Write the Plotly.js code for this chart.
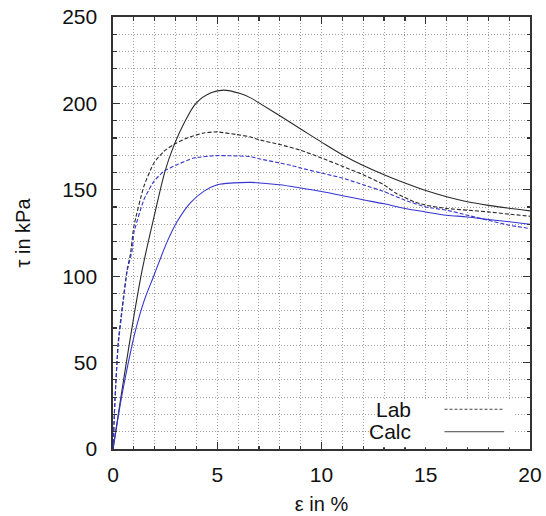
<!DOCTYPE html>
<html>
<head>
<meta charset="utf-8">
<script src="https://cdn.plot.ly/plotly-3.0.1.min.js"></script>
<style>html,body{margin:0;padding:0;background:#fff;}#chart{width:546px;height:516px;}</style>
</head>
<body>
<div id="chart"></div>
<script>
// Calc, case 1 (black solid)
var calc1_x = [0,0.38,0.89,1.4,2.0,2.5,2.9,3.5,4.0,4.7,5.3,6.1,6.6,7,8,9,10,11,12,13,14,15,16,17,18,19,20];
var calc1_y = [0,30,68.7,103.6,136,161,175,190.7,200.3,206.1,207.7,205.7,203.2,200.3,192.8,185.2,177.6,170.3,164,158.7,153.9,149.6,146,143.1,141,139.3,137.8];
// Lab, case 1 (black dashed)
var lab1_x = [0,0.05,0.1,0.25,0.44,0.68,0.84,1.0,1.48,1.96,2.44,2.91,3.55,4.35,5.0,5.9,6.6,7,8,9,10,11,12,13,13.5,14,14.5,15,16,17,18,19,20];
var lab1_y = [0,15,30,62,82,104,113,128.8,152,165.5,172.3,176.2,180,182.9,183.5,182,180.6,179,176.2,172.9,168.4,163.6,158.7,152.9,148.5,145.5,142.8,141.1,139.2,138.2,137.2,135.9,134.7];
// Lab, case 2 (blue dashed)
var lab2_x = [0,0.05,0.1,0.25,0.44,0.68,0.92,1.0,1.48,1.96,2.44,3.07,3.87,5.0,5.6,6.6,7,8,8.6,9,10,11,12,13,13.3,14,15,16,17,18,19,20];
var lab2_y = [0,15,30,60,80,103,115,125,144.2,154.9,160.7,164.5,168.4,169.8,169.7,169.2,168,165.5,164,162.6,159.7,156.8,152.9,149,147.5,144,140.1,138.2,135.3,132.4,129.5,127.6];
// Calc, case 2 (blue solid)
var calc2_x = [0,0.2,0.41,0.7,1.08,1.5,1.95,2.6,3.07,3.71,4.35,5.0,5.8,6.6,7,8,9,10,11,12,13,14,15,16,17,18,19,20];
var calc2_y = [0,15,30,48,68.7,86,100,120,131.5,142.5,149.1,152.9,154,154.3,154,152.9,151,149,146.6,144.2,141.9,139.2,137.2,135.3,134.3,132.8,131.5,130.1];

var legendLabels = ["Lab", "Calc"];
var xTitle = "ε in %";
var yTitle = "τ in kPa";

var BLACK = '#2a2a2a', BLUE = '#3535d2';
var FONT = 'Liberation Sans, Arial, sans-serif';
var GRID = '#a0a0a0';

var traces = [
  {x: calc1_x, y: calc1_y, mode: 'lines', line: {color: BLACK, width: 1.1, shape: 'spline', smoothing: 1}, showlegend: false},
  {x: lab1_x, y: lab1_y, mode: 'lines', line: {color: BLACK, width: 1.1, dash: '4px,2px', shape: 'spline', smoothing: 0.5}, showlegend: false},
  {x: lab2_x, y: lab2_y, mode: 'lines', line: {color: BLUE, width: 1.1, dash: '4px,2px', shape: 'spline', smoothing: 0.5}, showlegend: false},
  {x: calc2_x, y: calc2_y, mode: 'lines', line: {color: BLUE, width: 1.1, shape: 'spline', smoothing: 1}, showlegend: false}
];

var axisCommon = {
  showline: true, linecolor: '#333', linewidth: 1.6, mirror: 'allticks',
  ticks: 'inside', ticklen: 7, tickwidth: 1.2, tickcolor: '#333',
  showgrid: true, gridcolor: GRID, griddash: '1px,2px', gridwidth: 1,
  zeroline: false, tickfont: {family: FONT, size: 21, color: '#111'}
};

var layout = {
  width: 546, height: 516,
  margin: {l: 112.5, r: 16, t: 17, b: 67},
  paper_bgcolor: '#fff', plot_bgcolor: '#fff',
  showlegend: false,
  xaxis: Object.assign({}, axisCommon, {
    range: [0, 20], dtick: 5, tick0: 0, ticklabelstandoff: 6,
    minor: {dtick: 1, ticks: 'inside', ticklen: 3.5, tickcolor: '#333', showgrid: true, gridcolor: GRID, griddash: '1px,2px', gridwidth: 1},
    title: {text: xTitle, font: {family: FONT, size: 20, color: '#111'}, standoff: 12}
  }),
  yaxis: Object.assign({}, axisCommon, {
    range: [0, 250], dtick: 50, tick0: 0, ticklabelstandoff: 10,
    minor: {dtick: 10, ticks: 'inside', ticklen: 3.5, tickcolor: '#333', showgrid: true, gridcolor: GRID, griddash: '1px,2px', gridwidth: 1},
    title: {text: yTitle, font: {family: FONT, size: 20, color: '#111'}, standoff: 26}
  }),
  shapes: [
    {type: 'rect', xref: 'paper', yref: 'paper', x0: 0.64, x1: 0.962, y0: 0.004, y1: 0.116, fillcolor: '#fff', line: {width: 0}, layer: 'above'},
    {type: 'line', xref: 'paper', yref: 'paper', x0: 0.795, x1: 0.938, y0: 0.092, y1: 0.092, line: {color: '#444', width: 1, dash: '3px,2px'}, layer: 'above'},
    {type: 'line', xref: 'paper', yref: 'paper', x0: 0.795, x1: 0.938, y0: 0.040, y1: 0.040, line: {color: '#444', width: 1}, layer: 'above'}
  ],
  annotations: [
    {text: legendLabels[0], xref: 'paper', yref: 'paper', x: 0.72, y: 0.092, xanchor: 'right', yanchor: 'middle', showarrow: false, font: {family: FONT, size: 21, color: '#111'}},
    {text: legendLabels[1], xref: 'paper', yref: 'paper', x: 0.72, y: 0.040, xanchor: 'right', yanchor: 'middle', showarrow: false, font: {family: FONT, size: 21, color: '#111'}}
  ]
};

Plotly.newPlot('chart', traces, layout, {staticPlot: true, displayModeBar: false});
</script>
</body>
</html>
